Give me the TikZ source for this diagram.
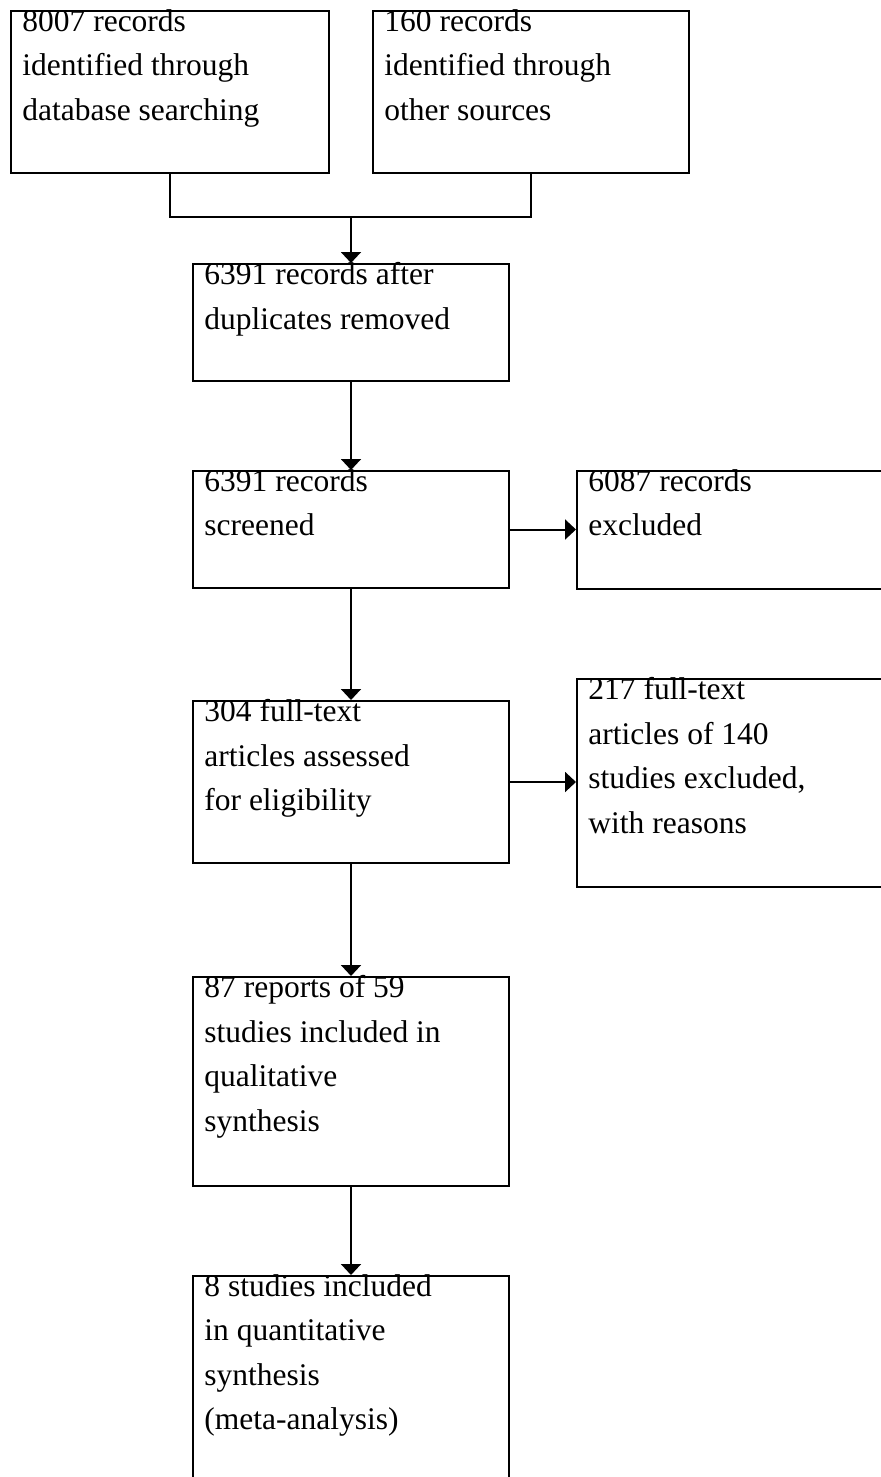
\documentclass[tikz,border=0pt]{standalone}
\usepackage{fontspec}
\setmainfont{Liberation Serif}
\usetikzlibrary{arrows.meta}

\begin{document}
\begin{tikzpicture}[x=0.5pt, y=-0.5pt,
  flowbox/.style={draw, line width=1pt, inner sep=0pt, anchor=north west, minimum width=158pt},
  boxtext/.style={anchor=north west, inner sep=0pt, align=left, execute at begin node=\strut, font=\fontsize{15.75pt}{22.25pt}\selectfont},
  link/.style={line width=1pt},
  arr/.style={line width=1pt, -{Triangle[width=10pt,length=5.5pt]}}]
  \useasboundingbox (0,0) rectangle (880,1477);
  \node[flowbox, minimum width=159pt, minimum height=81pt] (db) at (10,10) {};
  \node[boxtext] (db-t) at ([shift={(12,-1)}]db.north west) {8007 records\\identified through\\database searching};
  \node[flowbox, minimum height=81pt] (other) at (372,10) {};
  \node[boxtext] (other-t) at ([shift={(12,-1)}]other.north west) {160 records\\identified through\\other sources};
  \node[flowbox, minimum height=58.5pt] (dup) at (192,263) {};
  \node[boxtext] (dup-t) at ([shift={(12,-1)}]dup.north west) {6391 records after\\duplicates removed};
  \node[flowbox, minimum height=58.5pt] (screen) at (192,470) {};
  \node[boxtext] (screen-t) at ([shift={(12,-1)}]screen.north west) {6391 records\\screened};
  \node[flowbox, minimum height=59pt] (excl) at (576,470) {};
  \node[boxtext] (excl-t) at ([shift={(12,-1)}]excl.north west) {6087 records\\excluded};
  \node[flowbox, minimum height=81pt] (full) at (192,700) {};
  \node[boxtext] (full-t) at ([shift={(12,-1)}]full.north west) {304 full-text\\articles assessed\\for eligibility};
  \node[flowbox, minimum height=104pt] (fexcl) at (576,678) {};
  \node[boxtext] (fexcl-t) at ([shift={(12,-1)}]fexcl.north west) {217 full-text\\articles of 140\\studies excluded,\\with reasons};
  \node[flowbox, minimum height=104.5pt] (qual) at (192,976) {};
  \node[boxtext] (qual-t) at ([shift={(12,-1)}]qual.north west) {87 reports of 59\\studies included in\\qualitative\\synthesis};
  \node[flowbox, minimum height=125pt] (quant) at (192,1275) {};
  \node[boxtext] (quant-t) at ([shift={(12,-1)}]quant.north west) {8 studies included\\in quantitative\\synthesis\\(meta-analysis)};
  \coordinate (join) at (351,217);
  \draw[link] (db.south) -- (db.south |- join) -- (other.south |- join) -- (other.south);
  \draw[arr] (join) -- (dup.north);
  \draw[arr] (dup.south) -- (screen.north);
  \draw[arr] (screen.east) -- (screen.east -| excl.west);
  \draw[arr] (screen.south) -- (full.north);
  \draw[arr] (full.east) -- (full.east -| fexcl.west);
  \draw[arr] (full.south) -- (qual.north);
  \draw[arr] (qual.south) -- (quant.north);
\end{tikzpicture}
\end{document}
